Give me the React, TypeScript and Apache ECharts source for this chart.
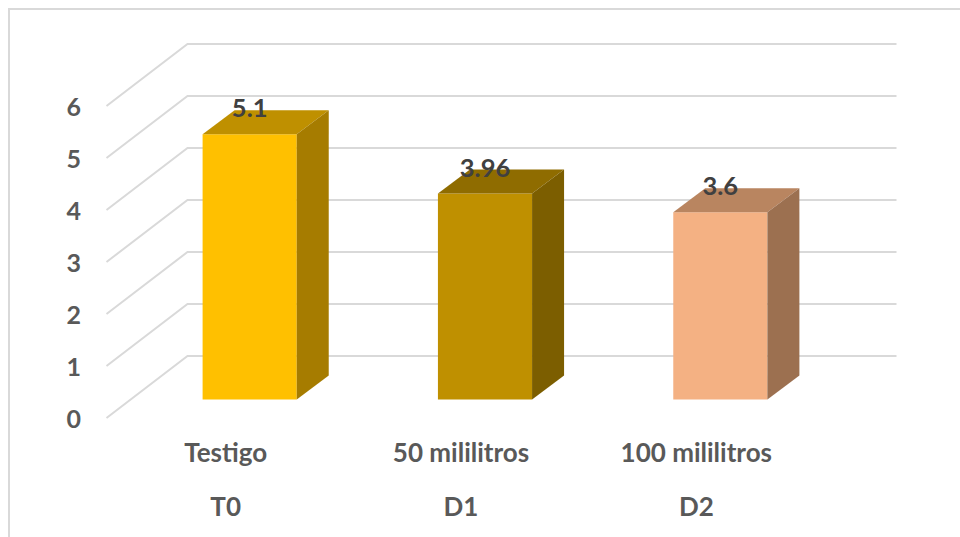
import React, { useEffect, useRef } from "react";
import * as echarts from "echarts";

const doses = ["Testigo", "50 mililitros", "100 mililitros"];
const codes = ["T0", "D1", "D2"];
const values = [5.1, 3.96, 3.6];
const valueTicks = [0, 1, 2, 3, 4, 5, 6];
const frontColors = ["#FFC000", "#BF9000", "#F4B183"];
const topColors = ["#BF9000", "#8F6C00", "#B98560"];
const sideColors = ["#A67C00", "#7C5E00", "#9C7050"];

const FONT = "Lato";
// Offsets of the 3D box relative to the axis plane at the front of the floor.
const WALL_DX = 81;
const WALL_DY = -62;
const WALL_OVERHANG = 1.5;
const BAR_DX = 24;
const BAR_DY = -18.5;
const DEPTH_DX = 32;
const DEPTH_DY = -24;

export default function App() {
  const ref = useRef<HTMLDivElement>(null);

  useEffect(() => {
    const chart = echarts.init(ref.current!, null, { renderer: "svg" });
    chart.setOption({
      animation: false,
      backgroundColor: "#ffffff",
      graphic: [
        {
          type: "rect",
          silent: true,
          shape: { x: 9, y: 9, width: 970, height: 550 },
          style: { fill: "transparent", stroke: "#D9D9D9", lineWidth: 2 },
        },
      ],
      grid: { left: 108, top: 106, width: 706, height: 312 },
      xAxis: {
        type: "category",
        data: doses.map((d, i) => `${d}\n${codes[i]}`),
        axisLine: { show: false },
        axisTick: { show: false },
        axisLabel: {
          margin: 7,
          lineHeight: 54,
          fontFamily: FONT,
          fontWeight: "bold",
          fontSize: 26,
          color: "#595959",
        },
      },
      yAxis: {
        type: "value",
        min: 0,
        max: 6,
        interval: 1,
        splitLine: { show: false },
        axisLine: { show: false },
        axisTick: { show: false },
        axisLabel: {
          margin: 27,
          fontFamily: FONT,
          fontWeight: "bold",
          fontSize: 25,
          color: "#595959",
        },
      },
      series: [
        {
          // Side wall and back wall gridlines
          type: "custom",
          silent: true,
          clip: false,
          z: 1,
          data: valueTicks.map((v) => [v]),
          encode: { y: 0 },
          renderItem: (_params: any, api: any) => {
            const v = api.value(0);
            const halfBand = api.size([1, 0])[0] / 2;
            const first = api.coord([0, v]);
            const last = api.coord([2, v]);
            const startX = first[0] - halfBand - WALL_OVERHANG;
            const endX = last[0] + halfBand + WALL_OVERHANG;
            return {
              type: "polyline",
              shape: {
                points: [
                  [startX, first[1]],
                  [startX + WALL_DX, first[1] + WALL_DY],
                  [endX + WALL_DX, last[1] + WALL_DY],
                ],
              },
              style: { fill: "none", stroke: "#D9D9D9", lineWidth: 2 },
            };
          },
        },
        {
          // Boxes: front, top and side faces with the value above each
          type: "custom",
          silent: true,
          clip: false,
          z: 2,
          data: values.map((v, i) => [i, v]),
          encode: { x: 0, y: 1 },
          renderItem: (_params: any, api: any) => {
            const i = api.value(0);
            const v = api.value(1);
            const half = api.size([1, 0])[0] * 0.2;
            const top = api.coord([i, v]);
            const base = api.coord([i, 0]);
            const cx = top[0] + BAR_DX;
            const yTop = top[1] + BAR_DY;
            const yBase = base[1] + BAR_DY;
            const l = cx - half;
            const r = cx + half;
            return {
              type: "group",
              children: [
                {
                  type: "polygon",
                  shape: { points: [[l, yTop], [r, yTop], [r, yBase], [l, yBase]] },
                  style: { fill: frontColors[i] },
                },
                {
                  type: "polygon",
                  shape: {
                    points: [
                      [l, yTop],
                      [l + DEPTH_DX, yTop + DEPTH_DY],
                      [r + DEPTH_DX, yTop + DEPTH_DY],
                      [r, yTop],
                    ],
                  },
                  style: { fill: topColors[i] },
                },
                {
                  type: "polygon",
                  shape: {
                    points: [
                      [r, yTop],
                      [r + DEPTH_DX, yTop + DEPTH_DY],
                      [r + DEPTH_DX, yBase + DEPTH_DY],
                      [r, yBase],
                    ],
                  },
                  style: { fill: sideColors[i] },
                },
                {
                  type: "text",
                  x: cx,
                  y: yTop - 27,
                  style: {
                    text: String(v),
                    align: "center",
                    verticalAlign: "middle",
                    fontFamily: FONT,
                    fontWeight: "bold",
                    fontSize: 25.5,
                    fill: "#404040",
                  },
                },
              ],
            };
          },
        },
      ],
    });
    return () => chart.dispose();
  }, []);

  return (
    <div
      ref={ref}
      style={{ position: "absolute", left: 0, top: 0, width: 960, height: 537 }}
    />
  );
}
